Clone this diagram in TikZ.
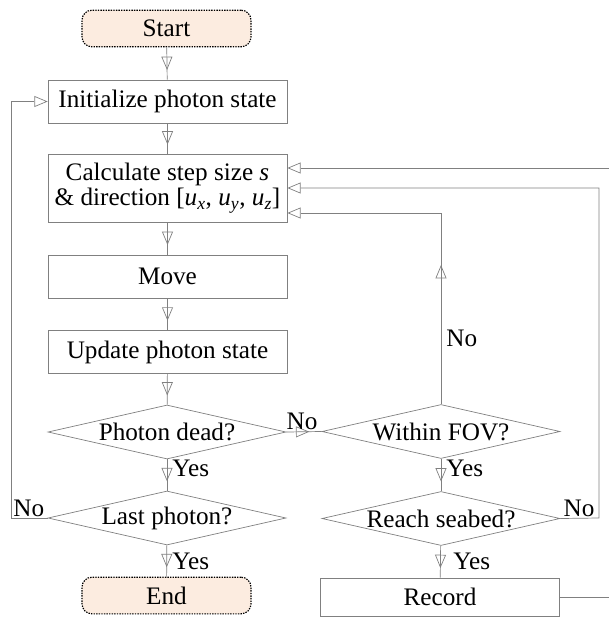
\documentclass[tikz,border=0pt]{standalone}
\usepackage{fontspec}
\setmainfont{Liberation Serif}
\usetikzlibrary{shapes.geometric,arrows.meta,decorations.markings}

\definecolor{linegray}{RGB}{128,128,128}
\definecolor{termfill}{RGB}{252,236,224}

\tikzset{
  box/.style={draw=linegray, line width=0.6pt, minimum width=7.17cm, minimum height=1.29cm, align=center, inner sep=2pt},
  term/.style={draw=black, line width=1pt, dash pattern=on 1.2pt off 1pt, rounded corners=0.3cm, fill=termfill, minimum width=5.07cm, minimum height=1.1cm},
  decision/.style={draw=linegray, line width=0.6pt, diamond, aspect=4.39, minimum width=7.14cm, minimum height=1.62cm, inner sep=0pt},
  flow/.style={draw=linegray, line width=0.6pt},
  tip/.style={-{Triangle[open,length=4mm,width=3.3mm]}},
  midtip/.style={postaction={decorate,decoration={markings,mark=at position #1 with {\arrow{Triangle[open,length=4mm,width=3.3mm]}}}}},
  lbl/.style={inner sep=1pt},
}

\begin{document}
\begin{tikzpicture}[x=0.03cm, y=-0.03cm, font=\fontsize{21.5}{24}\selectfont]

  \useasboundingbox (0,0) rectangle (608,617);

  % nodes
  \node[term] (start) at (166.5,28.5) {Start};
  \node[box] (init) at (167.5,101.5) {Initialize photon state};
  \node[box, minimum height=2.04cm] (calc) at (167.5,188)
    {Calculate step size \textit{s}\\[-2pt] \& direction [\textit{u}\textsubscript{\textit{x}}, \textit{u}\textsubscript{\textit{y}}, \textit{u}\textsubscript{\textit{z}}]};
  \node[box] (move) at (167.5,276.5) {Move};
  \node[box] (update) at (167.5,352) {Update photon state};
  \node[decision] (dead) at (167,432) {Photon dead?};
  \node[decision] (last) at (167,518) {Last photon?};
  \node[term] (end) at (166.5,595.5) {End};

  \node[decision] (fov) at (441,431.5) {Within FOV?};
  \node[decision] (seabed) at (441,518.5) {Reach seabed?};
  \node[box, minimum height=1.14cm] (record) at (440,597) {Record};

  % corner points
  \coordinate (loopL) at (11,518);
  \coordinate (fovtip) at (441,265);
  \coordinate (fovup) at (441,213);
  \coordinate (seaR) at (599,518);
  \coordinate (seaup) at (599,188);
  \coordinate (recR) at (612,597);
  \coordinate (recup) at (612,168);

  % main column
  \draw[flow, midtip=0.7] (start) -- (init);
  \draw[flow, midtip=0.7] (init) -- (calc);
  \draw[flow, midtip=0.7] (calc) -- (move);
  \draw[flow, midtip=0.7] (move) -- (update);
  \draw[flow, midtip=0.7] (update) -- (dead);
  \draw[flow, midtip=0.7] (dead) -- (last);
  \draw[flow, midtip=0.7] (last) -- (end);

  % loops back
  \draw[flow, tip] (last.west) -- (loopL) |- (init.west);
  \draw[flow, midtip=0.65] (dead.east) -- (fov.west);
  \draw[flow, midtip=0.7] (fov) -- (seabed);
  \draw[flow, midtip=0.7] (seabed) -- (record);
  \draw[flow] (fov.north) -- (fovup);
  \draw[flow, tip] (fov.north) -- (fovtip);
  \draw[flow, tip] (fovup) -- (calc.east |- fovup);
  \draw[flow, tip] (seabed.east) -- (seaR) -- (seaup) -- (calc.east |- seaup);
  \draw[flow, tip] (record.east) -- (recR) -- (recup) -- (calc.east |- recup);

  % labels
  \node[lbl, anchor=west] (yes1) at (171,468) {Yes};
  \node[lbl, anchor=west] (yes2) at (171,561) {Yes};
  \node[lbl, anchor=west] (yes3) at (445,468) {Yes};
  \node[lbl, anchor=west] (yes4) at (452,561) {Yes};
  \node[lbl, anchor=south west] (no1) at (12,518) {No};
  \node[lbl, anchor=south] (no2) at (302,431) {No};
  \node[lbl, anchor=west] (no3) at (445,338) {No};
  \node[lbl, anchor=south] (no4) at (579,518) {No};

\end{tikzpicture}
\end{document}
